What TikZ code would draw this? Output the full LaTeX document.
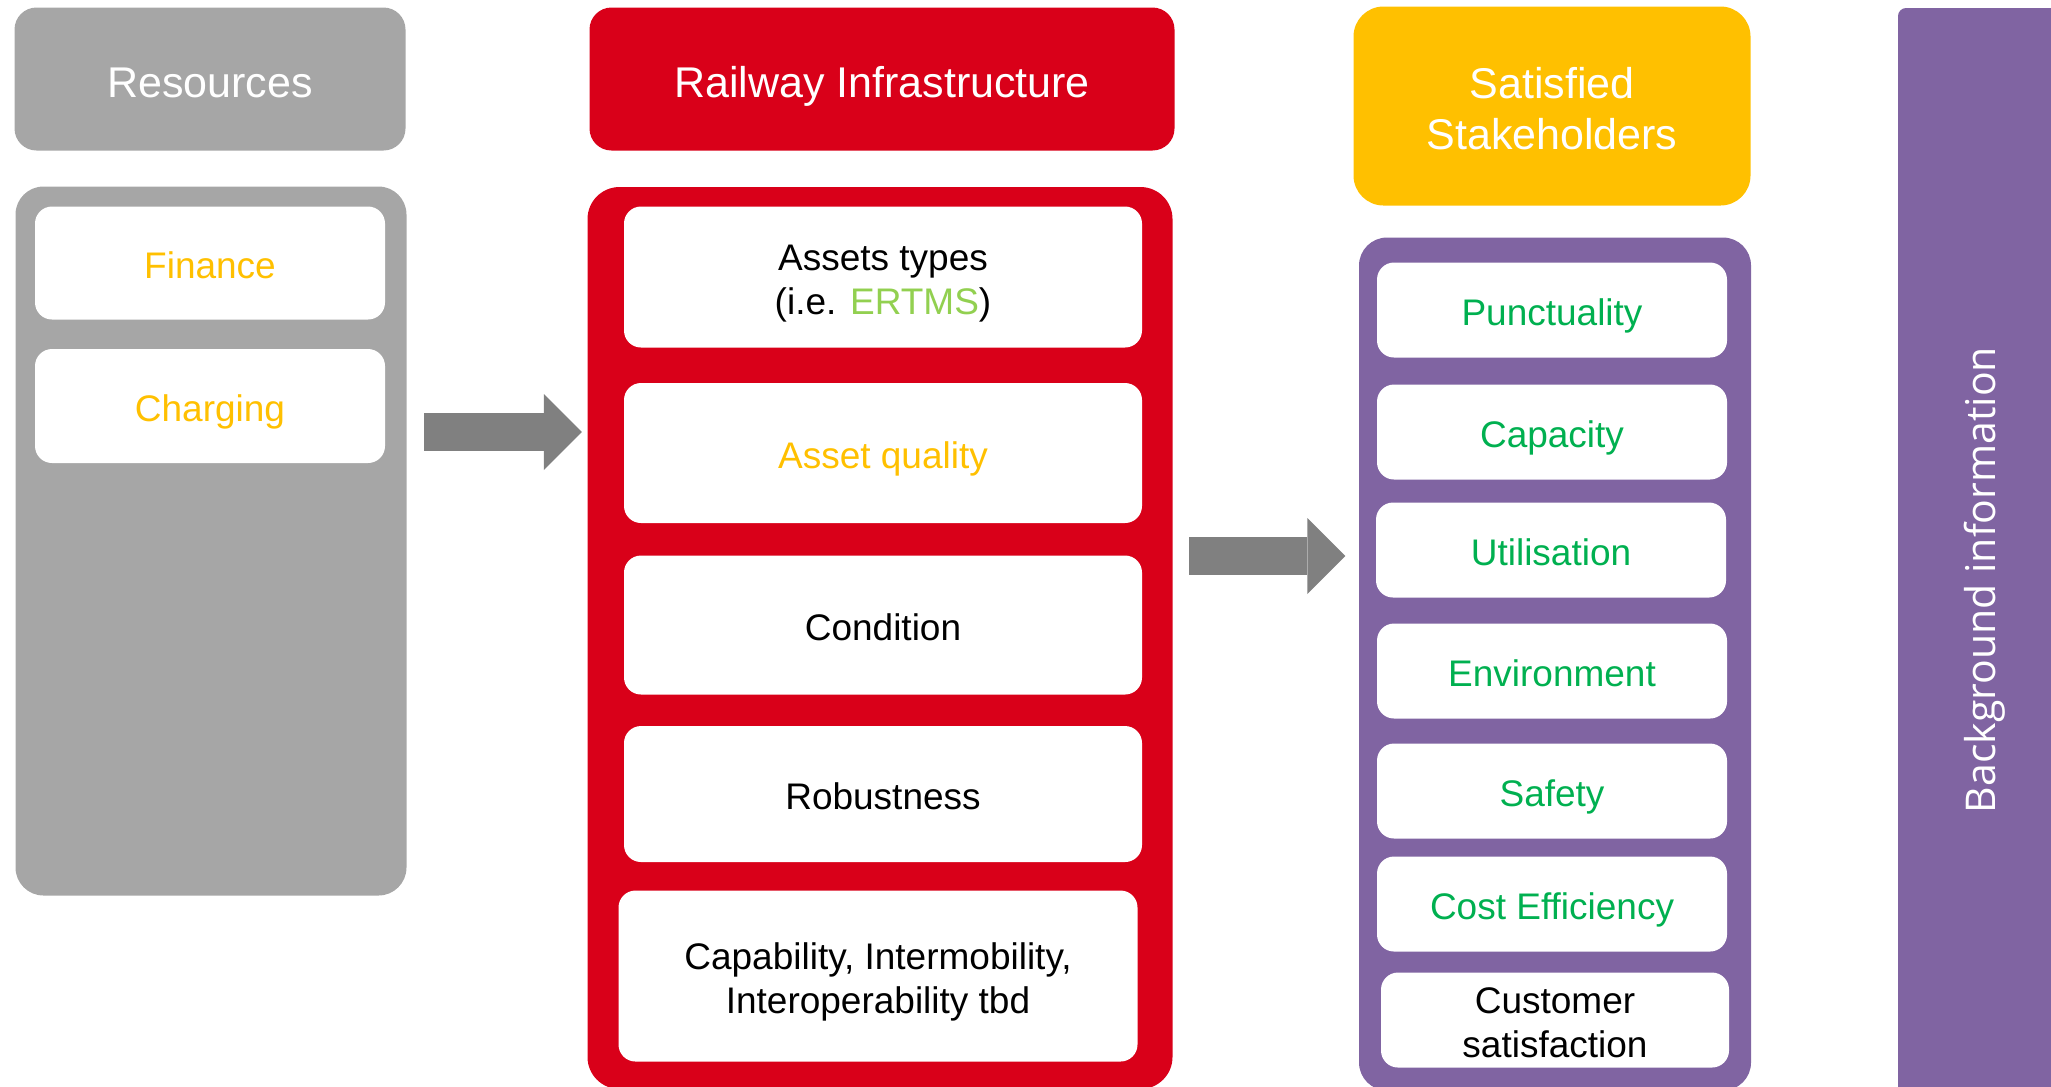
\documentclass[tikz,border=0pt]{standalone}
\usepackage{fontspec}
\setmainfont{Liberation Sans}
\newfontfamily\bgfont{Open Sans}
\usetikzlibrary{arrows.meta}
\definecolor{resgray}{HTML}{A6A6A6}
\definecolor{infred}{HTML}{D90019}
\definecolor{stakeyellow}{HTML}{FFC000}
\definecolor{stakepurple}{HTML}{8064A2}
\definecolor{kpigreen}{HTML}{00B050}
\definecolor{ertmsgreen}{HTML}{92D050}
\definecolor{arrowgray}{HTML}{808080}
% struts so the lines sit in the boxes the way the slide set them
\newcommand\topstrut{\rule{0pt}{1.05em}}
\newcommand\botstrut{\rule[-0.212em]{0pt}{0.212em}}

\begin{document}
\begin{tikzpicture}[x=0.1mm,y=-0.1mm,
  head/.style={rounded corners=2.2mm,text=white,inner sep=0pt,align=center,
    font=\fontsize{4.3mm}{5.16mm}\selectfont,
    execute at begin node=\topstrut,execute at end node=\botstrut},
  panel/.style={rounded corners=2.8mm,inner sep=0pt},
  item/.style={fill=white,rounded corners=1.7mm,inner sep=0pt,align=center,
    minimum width=35mm,minimum height=9.5mm,font=\fontsize{3.7mm}{4.44mm}\selectfont,
    execute at begin node=\topstrut,execute at end node=\botstrut},
  bigarrow/.style={draw=arrowgray,line width=3.8mm,
    -{Triangle[length=3.8mm,width=7.6mm,line width=0pt]}}]
\clip (0,0) rectangle (2051,1086);

% resources
\node[head,fill=resgray,minimum width=39.1mm,minimum height=14.3mm] (reshead) at (210,79) {Resources};
\node[panel,fill=resgray,minimum width=39.1mm,minimum height=70.9mm] (resbody) at (211,541) {};
\node[item,text=stakeyellow,minimum height=11.3mm] (finance) at (210,263) {Finance};
\node[item,text=stakeyellow,minimum height=11.4mm] (charging) at (210,406) {Charging};

% railway infrastructure
\node[head,fill=infred,minimum width=58.5mm,minimum height=14.3mm] (infhead) at (882,79) {Railway Infrastructure};
\node[panel,fill=infred,rounded corners=3.2mm,minimum width=58.5mm,minimum height=90.2mm] (infbody) at (880,638) {};
\node[item,minimum width=51.8mm,minimum height=14.1mm] (assets) at (883,277) {\topstrut Assets types\\(i.e. \textcolor{ertmsgreen}{ERTMS})};
\node[item,text=stakeyellow,minimum width=51.8mm,minimum height=14mm] (quality) at (883,453) {Asset quality};
\node[item,minimum width=51.8mm,minimum height=13.9mm] (condition) at (883,625) {Condition};
\node[item,minimum width=51.8mm,minimum height=13.6mm] (robust) at (883,794) {Robustness};
\node[item,minimum width=51.9mm,minimum height=17.1mm] (capab) at (878,976) {\topstrut Capability, Intermobility,\\Interoperability tbd};

% stakeholders
\node[head,fill=stakeyellow,rounded corners=3mm,minimum width=39.7mm,minimum height=19.9mm] (stakehead) at (1552,106) {\topstrut Satisfied\\Stakeholders};
\node[panel,fill=stakepurple,minimum width=39.2mm,minimum height=85.3mm] (stakebody) at (1555,664) {};
\node[item,text=kpigreen] (punct) at (1552,310) {Punctuality};
\node[item,text=kpigreen] (capacity) at (1552,432) {Capacity};
\node[item,text=kpigreen] (util) at (1551,550) {Utilisation};
\node[item,text=kpigreen] (env) at (1552,671) {Environment};
\node[item,text=kpigreen] (safety) at (1552,791) {Safety};
\node[item,text=kpigreen] (costeff) at (1552,904) {Cost Efficiency};
\node[item,minimum width=34.8mm] (customer) at (1555,1020) {\topstrut Customer\\satisfaction};

% background information bar
\node[fill=stakepurple,rounded corners=0.8mm,inner sep=0pt,minimum width=17mm,minimum height=108.8mm] (bgbar) at (1983,552) {};
\node[rotate=90,anchor=base,text=white,inner sep=0pt,font=\bgfont\fontsize{4.1mm}{4.9mm}\selectfont] (bglabel) at (1995,580) {Background information};

% flow arrows
\coordinate (a1) at (500,432);
\coordinate (a2) at (1260,556);
\draw[bigarrow,shorten <=1.7mm,shorten >=0.5mm] (resbody.east |- a1) -- (infbody.west |- a1);
\draw[bigarrow,shorten <=1.6mm,shorten >=1.3mm] (infbody.east |- a2) -- (stakebody.west |- a2);
\end{tikzpicture}
\end{document}
